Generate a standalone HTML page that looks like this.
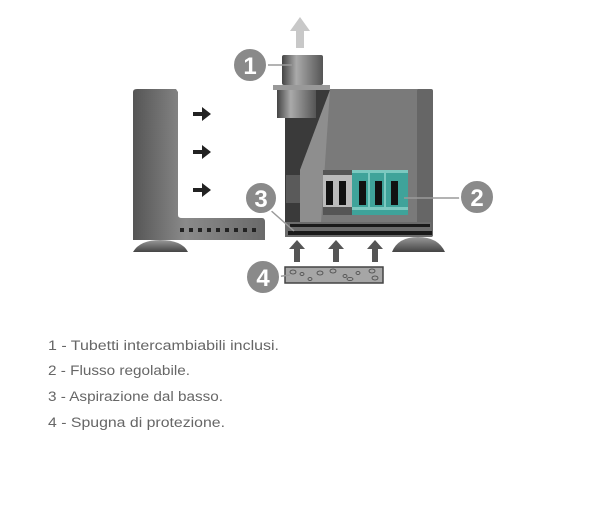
<!DOCTYPE html>
<html><head><meta charset="utf-8"><style>
html,body{margin:0;padding:0;background:#fff;width:600px;height:505px;overflow:hidden}
</style></head><body>
<svg width="600" height="505" viewBox="0 0 600 505" xmlns="http://www.w3.org/2000/svg">
<defs>
<linearGradient id="lg" x1="0" x2="1"><stop offset="0" stop-color="#555"/><stop offset="0.4" stop-color="#8a8a8a"/><stop offset="1" stop-color="#6a6a6a"/></linearGradient>
<linearGradient id="tube" x1="0" x2="1"><stop offset="0" stop-color="#444"/><stop offset="0.35" stop-color="#aaa"/><stop offset="1" stop-color="#555"/></linearGradient>
<linearGradient id="foot" x1="0" y1="0" x2="0" y2="1"><stop offset="0" stop-color="#999"/><stop offset="1" stop-color="#444"/></linearGradient>
</defs>
<path d="M133 92 Q133 89 137 89 L176 89 L178 92 L178 215 Q178 218 182 218 L262 218 Q265 218 265 222 L265 240 L133 240 Z" fill="url(#lg)"/>
<g fill="#222"><rect x="180" y="228" width="4" height="4"/><rect x="189" y="228" width="4" height="4"/><rect x="198" y="228" width="4" height="4"/><rect x="207" y="228" width="4" height="4"/><rect x="216" y="228" width="4" height="4"/><rect x="225" y="228" width="4" height="4"/><rect x="234" y="228" width="4" height="4"/><rect x="243" y="228" width="4" height="4"/><rect x="252" y="228" width="4" height="4"/></g>
<path d="M133 252 Q140 240 160 240 Q182 240 188 252 Z" fill="url(#foot)"/>
<g fill="#222"><path d="M193 112h9v-5l9 7-9 7v-5h-9z"/><path d="M193 150h9v-5l9 7-9 7v-5h-9z"/><path d="M193 188h9v-5l9 7-9 7v-5h-9z"/></g>
<path d="M296 48 V31 H290 L300 17 L310 31 H304 V48 Z" fill="#c8c8c8"/>
<rect x="285" y="89" width="148" height="148" rx="3" fill="#7a7a7a"/>
<rect x="417" y="89" width="16" height="148" rx="2" fill="#666"/>
<path d="M285 118 L316 118 L316 90 L330 90 L300 170 L300 237 L285 237 Z" fill="#3a3a3a"/>
<path d="M300 170 L330 90 L320 237 L300 237 Z" fill="#8e8e8e"/>
<rect x="286" y="175" width="14" height="28" fill="#5a5a5a"/>
<rect x="285" y="222" width="146" height="15" fill="#6c6c6c"/>
<rect x="290" y="224" width="140" height="3" fill="#1a1a1a"/>
<rect x="288" y="231" width="144" height="4" fill="#1a1a1a"/>
<rect x="277" y="90" width="39" height="28" fill="url(#tube)"/>
<rect x="273" y="85" width="57" height="5" fill="#999"/>
<rect x="282" y="55" width="41" height="30" rx="2" fill="url(#tube)"/>
<rect x="323" y="170" width="85" height="45" fill="#555"/>
<rect x="323" y="175" width="30" height="32" fill="#bbb"/>
<rect x="352" y="170" width="56" height="45" fill="#3fa39a"/>
<g fill="#7cc9c0"><rect x="352" y="170" width="56" height="3"/><rect x="352" y="207" width="56" height="3"/><rect x="368" y="173" width="2" height="34"/><rect x="384" y="173" width="2" height="34"/></g>
<g fill="#111"><rect x="326" y="181" width="7" height="24"/><rect x="339" y="181" width="7" height="24"/><rect x="359" y="181" width="7" height="24"/><rect x="375" y="181" width="7" height="24"/><rect x="391" y="181" width="7" height="24"/></g>
<path d="M392 252 Q398 237 418 237 Q438 237 445 252 Z" fill="url(#foot)"/>
<g fill="#555"><path d="M294 262V249H289L297 240L305 249H300V262Z"/><path d="M333 262V249H328L336 240L344 249H339V262Z"/><path d="M372 262V249H367L375 240L383 249H378V262Z"/></g>
<rect x="285" y="267" width="98" height="16" fill="#a6a6a6" stroke="#444" stroke-width="1.5"/>
<g fill="none" stroke="#444" stroke-width="0.8"><ellipse cx="293" cy="272" rx="3" ry="2"/><ellipse cx="302" cy="274" rx="2" ry="1.5"/><ellipse cx="320" cy="273" rx="3" ry="2"/><ellipse cx="333" cy="271" rx="3" ry="2"/><ellipse cx="345" cy="276" rx="2" ry="1.5"/><ellipse cx="358" cy="273" rx="2" ry="1.5"/><ellipse cx="372" cy="271" rx="3" ry="2"/><ellipse cx="375" cy="278" rx="3" ry="2"/><ellipse cx="310" cy="279" rx="2" ry="1.5"/><ellipse cx="350" cy="279" rx="3" ry="1.5"/></g>
<g stroke="#9a9a9a" stroke-width="1.5"><line x1="262" y1="65" x2="292" y2="65"/><line x1="404" y1="198" x2="465" y2="198"/><line x1="268" y1="208" x2="294" y2="231"/><line x1="275" y1="277" x2="290" y2="275"/></g>
<g fill="#8a8a8a" stroke="#fff" stroke-width="2"><circle cx="250" cy="65" r="17"/><circle cx="477" cy="197" r="17"/><circle cx="261" cy="198" r="16"/><circle cx="263" cy="277" r="17"/></g>
<g fill="#fff" font-family="Liberation Sans, sans-serif" font-weight="bold" font-size="24" text-anchor="middle"><text x="250" y="74">1</text><text x="477" y="206">2</text><text x="261" y="207">3</text><text x="263" y="286">4</text></g>
<g fill="#666" font-family="Liberation Sans, sans-serif" font-size="13.5"><text x="48" y="350" textLength="231" lengthAdjust="spacingAndGlyphs">1 - Tubetti intercambiabili inclusi.</text><text x="48" y="375" textLength="142" lengthAdjust="spacingAndGlyphs">2 - Flusso regolabile.</text><text x="48" y="401" textLength="175" lengthAdjust="spacingAndGlyphs">3 - Aspirazione dal basso.</text><text x="48" y="427" textLength="177" lengthAdjust="spacingAndGlyphs">4 - Spugna di protezione.</text></g>
</svg>
</body></html>
